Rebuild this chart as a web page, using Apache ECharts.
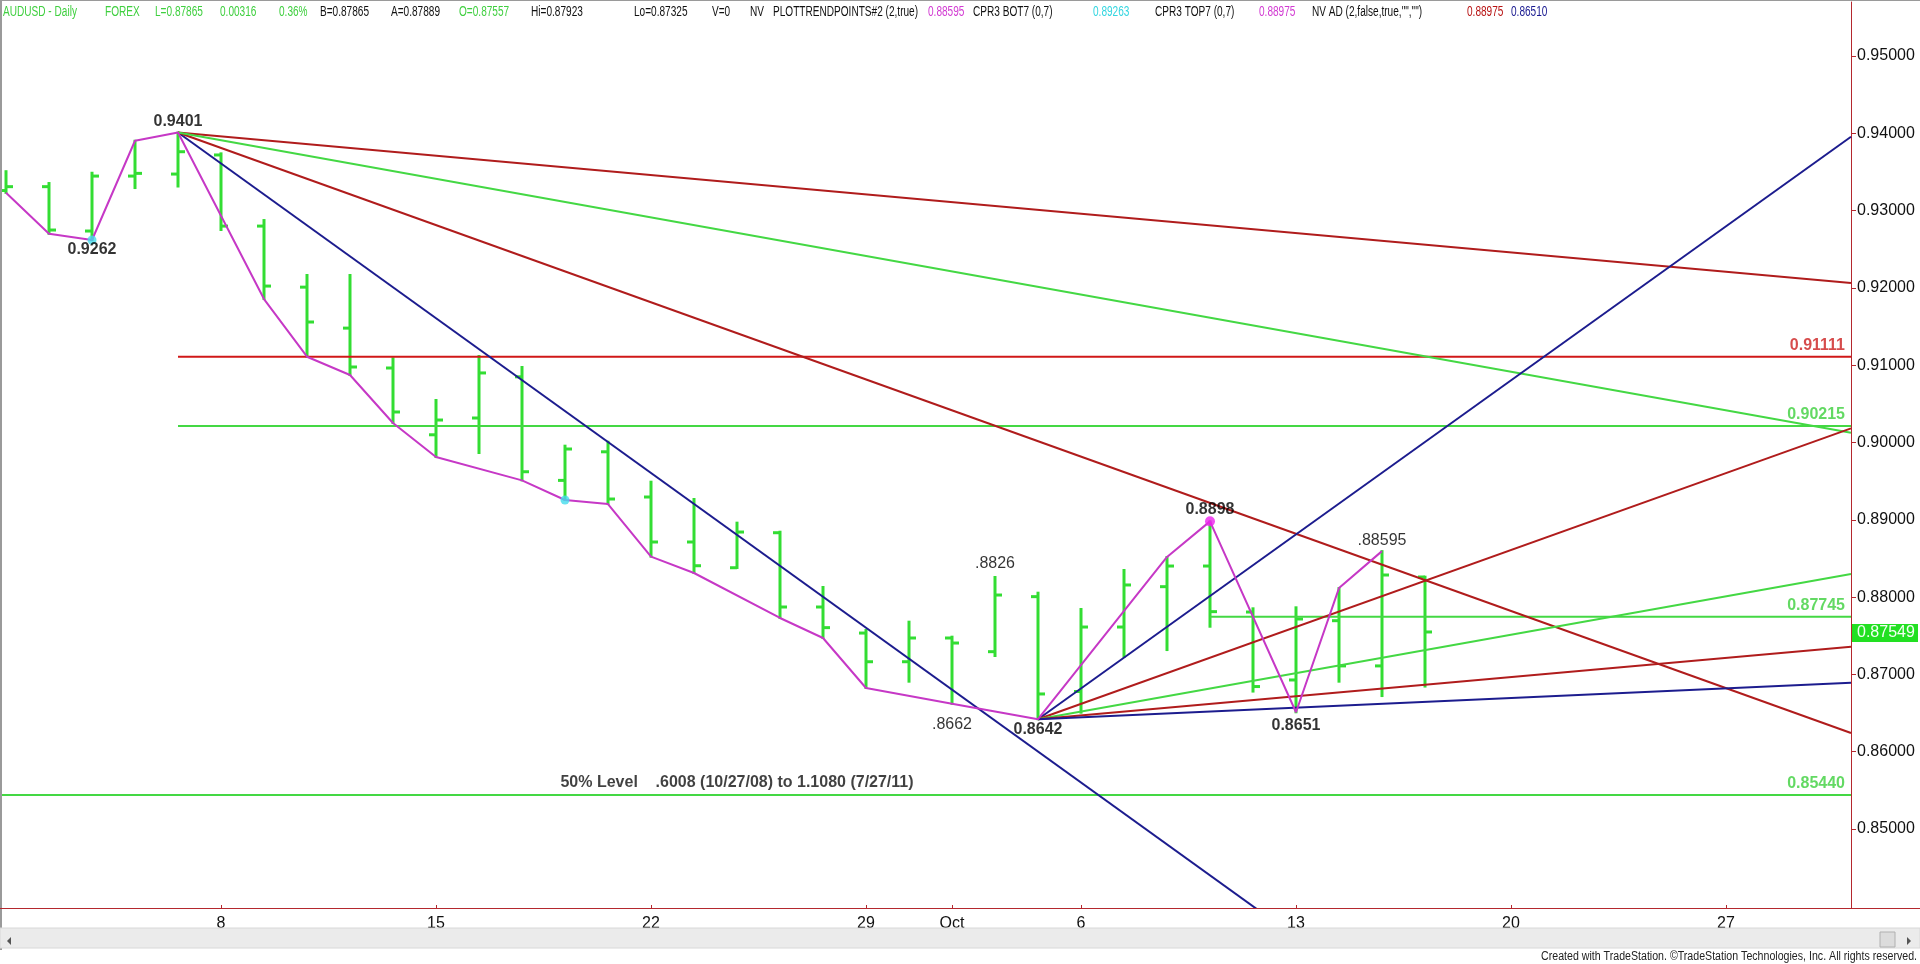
<!DOCTYPE html>
<html><head><meta charset="utf-8">
<script src="https://cdn.jsdelivr.net/npm/echarts@6/dist/echarts.min.js"></script>
<style>html,body{margin:0;padding:0;background:#fff;overflow:hidden}#c{width:1920px;height:964px}</style>
</head><body><div id="c"></div>
<script>
// ---------------- DATA ----------------
const dates = ['2014-09-01','2014-09-02','2014-09-03','2014-09-04','2014-09-05',
  '2014-09-08','2014-09-09','2014-09-10','2014-09-11','2014-09-12',
  '2014-09-15','2014-09-16','2014-09-17','2014-09-18','2014-09-19',
  '2014-09-22','2014-09-23','2014-09-24','2014-09-25','2014-09-26',
  '2014-09-29','2014-09-30','2014-10-01','2014-10-02','2014-10-03',
  '2014-10-06','2014-10-07','2014-10-08','2014-10-09','2014-10-10',
  '2014-10-13','2014-10-14','2014-10-15','2014-10-16'];
const openP  = [0.9326,0.9331,0.92736,0.93447,0.93473,0.9372,0.9280,0.9201,0.9148,0.90964,0.9010,0.90317,0.9085,0.8951,0.8988,0.89295,0.88713,0.8838,0.88833,0.87872,0.87535,0.87164,0.87471,0.87294,0.88006,0.86779,0.87613,0.88135,0.88402,0.87807,0.86928,0.87695,0.8711,0.8826];
const highP  = [0.9351,0.93357,0.9349,0.93904,0.9401,0.93741,0.92878,0.92167,0.92167,0.9109,0.9055,0.91119,0.90977,0.89959,0.9001,0.89493,0.89269,0.88963,0.88846,0.88131,0.87574,0.87682,0.87488,0.8826,0.88057,0.87846,0.88351,0.88519,0.8898,0.87855,0.87868,0.88117,0.88595,0.88264];
const lowP   = [0.9323,0.9270,0.9262,0.93292,0.93312,0.92749,0.91856,0.9111,0.90873,0.90252,0.89812,0.89864,0.8951,0.89256,0.89204,0.88523,0.88312,0.88377,0.8773,0.87471,0.86824,0.86906,0.8662,0.87238,0.8642,0.86505,0.87229,0.87315,0.87617,0.86778,0.8651,0.86906,0.8672,0.86843];
const closeP = [0.9331,0.92749,0.93447,0.93482,0.93762,0.9280,0.92024,0.91559,0.90977,0.90395,0.90291,0.9090,0.89622,0.89916,0.89269,0.88713,0.88406,0.88842,0.87872,0.87605,0.87164,0.87471,0.87406,0.88027,0.86747,0.87613,0.88157,0.88402,0.87812,0.86843,0.87717,0.8711,0.88286,0.87549];

// swing (zig-zag) line vertices: [bar index, price]
const swingPoints = [[0,0.9323],[1,0.9270],[2,0.9262],[3,0.93904],[4,0.9401],[6,0.91856],[7,0.9111],[8,0.90873],[9,0.90252],[10,0.89812],[12,0.8951],[13,0.89256],[14,0.89204],[15,0.88523],[16,0.88312],[18,0.8773],[19,0.87471],[20,0.86824],[22,0.8662],[24,0.8642],[27,0.88519],[28,0.8898],[30,0.8651],[31,0.88117],[32,0.88595]];

const X_MIN = -0.093, X_MAX = 42.907;
const Y_MIN = 0.83978, Y_MAX = 0.95699;

// trend lines [startIdx, startPrice, endIdx, endPrice]
const trendFromHigh = [[4,0.9401,29.2,0.8392],[4,0.9401,X_MAX,0.86242],[4,0.9401,X_MAX,0.92063],[4,0.9401,X_MAX,0.90127]];
const trendFromLow  = [[24,0.8642,X_MAX,0.93956],[24,0.8642,X_MAX,0.90183],[24,0.8642,X_MAX,0.88299],[24,0.8642,X_MAX,0.87359],[24,0.8642,X_MAX,0.86893]];

// horizontal levels
const levelPrices = [0.91111,0.90215,0.87745,0.85440];
const levelStartIdx = [4,4,28,X_MIN];
const levelTexts = ['0.91111','0.90215','0.87745','0.85440'];

// swing labels
const swingLabelText  = ['0.9401','0.9262','.8826','.8662','0.8642','0.8898','0.8651','.88595'];
const swingLabelIdx   = [4,2,23,22,24,28,30,32];
const swingLabelPrice = [0.9401,0.9262,0.8826,0.8662,0.8642,0.8898,0.8651,0.88595];

const cyanDots = [[2,0.9262],[13,0.89256]];
const magentaDots = [[28,0.8898]];

const fibText = '50% Level    .6008 (10/27/08) to 1.1080 (7/27/11)';
const fibAnchor = [17, 0.85440];
const lastPrice = 0.87549;

const yTickValues = [0.85,0.86,0.87,0.88,0.89,0.90,0.91,0.92,0.93,0.94,0.95];
const xTickIndex  = [5,10,15,20,22,25,30,35,40];
const xTickLabels = ['8','15','22','29','Oct','6','13','20','27'];

const headerTexts = ['AUDUSD - Daily','FOREX','L=0.87865','0.00316','0.36%','B=0.87865','A=0.87889','O=0.87557','Hi=0.87923','Lo=0.87325','V=0','NV','PLOTTRENDPOINTS#2 (2,true)','0.88595','CPR3 BOT7 (0,7)','0.89263','CPR3 TOP7 (0,7)','0.88975','NV AD (2,false,true,"","")','0.88975','0.86510'];
const footerText = 'Created with TradeStation. \u00A9TradeStation Technologies, Inc. All rights reserved.';

// ---------------- STYLE ----------------
const FONT = 'Liberation Sans, Arial, sans-serif';
const C = {bar:'#33dd33', green:'#44d844', glabel:'#3ccf3c', mag:'#c638c6', navy:'#1c1c8e', dred:'#b01c1c', red:'#d01818', axis:'#b4282e', cyan:'#44dcec'};
const headerX = [3,105,155,220,279,320,391,459,531,634,712,750,773,928,973,1093,1155,1259,1312,1467,1511];
const headerCol = ['#3fcf3f','#3fcf3f','#3fcf3f','#3fcf3f','#3fcf3f','#111','#111','#3fcf3f','#111','#111','#111','#111','#111','#d23ad2','#111','#33d6e0','#111','#d23ad2','#111','#b81414','#1a1a90'];
const highColors = [C.navy, C.dred, C.dred, C.green];
const lowColors  = [C.navy, C.dred, C.green, C.dred, C.navy];
const levelColors = [C.red, C.green, C.green, C.green];
const levelLabelColors = ['#cc1f1f', C.glabel, C.glabel, C.glabel];
const swingBold = [true,true,false,false,true,true,true,false];
const swingDy = [-11,10,-13,21,10,-12,13,-11];
const HIDDEN = {color:'rgba(0,0,0,0)'};

// ---------------- BUILD ----------------
const ohlc = dates.map((d,i)=>[i, openP[i], highP[i], lowP[i], closeP[i]]);
const series = [];
series.push({
  type:'custom', name:'bars', z:2, silent:true,
  renderItem:function(params, api){
    const x=api.value(0);
    const pO=api.coord([x,api.value(1)]), pH=api.coord([x,api.value(2)]), pL=api.coord([x,api.value(3)]), pC=api.coord([x,api.value(4)]);
    const st={stroke:C.bar, lineWidth:3};
    return {type:'group', children:[
      {type:'line', shape:{x1:pH[0],y1:pH[1]-1,x2:pL[0],y2:pL[1]+1}, style:st},
      {type:'line', shape:{x1:pO[0]-7,y1:pO[1],x2:pO[0],y2:pO[1]}, style:st},
      {type:'line', shape:{x1:pC[0],y1:pC[1],x2:pC[0]+7,y2:pC[1]}, style:st}
    ]};
  },
  encode:{x:0, y:[1,2,3,4]},
  data: ohlc
});
function seg(data,color,z,w){ return {type:'line', data:data, symbol:'none', silent:true, z:z, clip:true, lineStyle:{color:color, width:w||2}, animation:false}; }
levelPrices.forEach((p,i)=>series.push(seg([[levelStartIdx[i],p],[X_MAX,p]], levelColors[i], 3)));
trendFromHigh.forEach((t,i)=>series.push(seg([[t[0],t[1]],[t[2],t[3]]], highColors[i], 4)));
trendFromLow.forEach((t,i)=>series.push(seg([[t[0],t[1]],[t[2],t[3]]], lowColors[i], 4)));
series.push(seg(swingPoints, C.mag, 5));
series.push({type:'scatter', data:cyanDots, symbolSize:9, itemStyle:{color:C.cyan}, z:6, silent:true});
series.push({type:'scatter', data:magentaDots, symbolSize:10, itemStyle:{color:'#ee22ee'}, z:6, silent:true});
series.push({type:'scatter', symbolSize:1, itemStyle:HIDDEN, z:7, silent:true,
  data: swingLabelText.map((t,i)=>({name:t, value:[swingLabelIdx[i], swingLabelPrice[i]],
    label:{show:true, position:'inside', formatter:t, offset:[0, swingDy[i]], color:'#000', fontFamily:FONT, fontSize:16, fontWeight: swingBold[i]?'bold':'normal'}}))
});
series.push({type:'scatter', symbolSize:1, itemStyle:HIDDEN, z:7, silent:true,
  data: levelTexts.map((t,i)=>({name:t, value:[X_MAX, levelPrices[i]],
    label:{show:true, position:'inside', formatter:t, align:'right', verticalAlign:'middle', offset:[-6,-11], color:levelLabelColors[i], fontFamily:FONT, fontSize:16, fontWeight:'bold'}}))
});
series.push({type:'scatter', symbolSize:1, itemStyle:HIDDEN, z:7, silent:true,
  data:[{name:'fib', value:fibAnchor, label:{show:true, position:'inside', formatter:fibText, offset:[0,-12], color:'#111', fontFamily:FONT, fontSize:16, fontWeight:'bold'}}]
});

const graphic = [];
graphic.push({type:'rect', shape:{x:0,y:0,width:1920,height:1}, style:{fill:'#9a9a9a'}, z:100});
graphic.push({type:'rect', shape:{x:0,y:0,width:2,height:950}, style:{fill:'#9a9a9a'}, z:100});
graphic.push({type:'line', shape:{x1:0,y1:908.5,x2:1920,y2:908.5}, style:{stroke:C.axis, lineWidth:1}, z:100});
graphic.push({type:'rect', shape:{x:0,y:928,width:1920,height:20}, style:{fill:'#ebebeb', stroke:'#d8d8d8', lineWidth:1}, z:100});
graphic.push({type:'rect', shape:{x:1880,y:932,width:15,height:15}, style:{fill:'#dcdcdc', stroke:'#b0b0b0', lineWidth:1}, z:101});
graphic.push({type:'polygon', shape:{points:[[1907,937],[1907,945],[1911,941]]}, style:{fill:'#555'}, z:101});
graphic.push({type:'polygon', shape:{points:[[11,937],[11,945],[7,941]]}, style:{fill:'#555'}, z:101});
graphic.push({type:'text', x:1917, y:957, scaleX:0.885, style:{text:footerText, x:0, y:0, align:'right', verticalAlign:'middle', fill:'#222', font:'12px '+FONT}, z:101});
headerTexts.forEach((t,i)=>graphic.push({type:'text', x:headerX[i], y:12, scaleX:0.72, style:{text:t, x:0, y:0, verticalAlign:'middle', fill:headerCol[i], font:'14px '+FONT}, z:101}));

const chart = echarts.init(document.getElementById('c'), null, {renderer:'canvas'});
chart.setOption({
  animation:false,
  backgroundColor:'#fff',
  grid:{left:2, right:69, top:2, bottom:56},
  xAxis:{type:'value', min:X_MIN, max:X_MAX, splitLine:{show:false},
    axisLine:{show:true, onZero:false, lineStyle:{color:C.axis, width:1}},
    axisTick:{show:true, inside:true, length:3, customValues:xTickIndex, lineStyle:{color:C.axis}},
    axisLabel:{customValues:xTickIndex, formatter:v=>xTickLabels[xTickIndex.indexOf(v)], color:'#111', fontFamily:FONT, fontSize:16, margin:8}
  },
  yAxis:{type:'value', position:'right', min:Y_MIN, max:Y_MAX, scale:true, splitLine:{show:false},
    axisLine:{show:true, onZero:false, lineStyle:{color:C.axis, width:1}},
    axisTick:{show:true, length:5, customValues:yTickValues, lineStyle:{color:C.axis}},
    axisLabel:{customValues:yTickValues, formatter:v=>v.toFixed(5), color:'#111', fontFamily:FONT, fontSize:16, margin:6}
  },
  series: series,
  graphic: graphic
});
const tp = chart.convertToPixel({xAxisIndex:0, yAxisIndex:0}, [X_MAX, lastPrice]);
graphic.push({type:'rect', shape:{x:tp[0]+1, y:tp[1]-8, width:66, height:18}, style:{fill:'#22e022'}, z:102});
graphic.push({type:'text', style:{text:lastPrice.toFixed(5), x:tp[0]+6, y:tp[1]+1, verticalAlign:'middle', fill:'#f4fff4', font:'16px '+FONT}, z:103});
chart.setOption({graphic: graphic});
</script></body></html>
